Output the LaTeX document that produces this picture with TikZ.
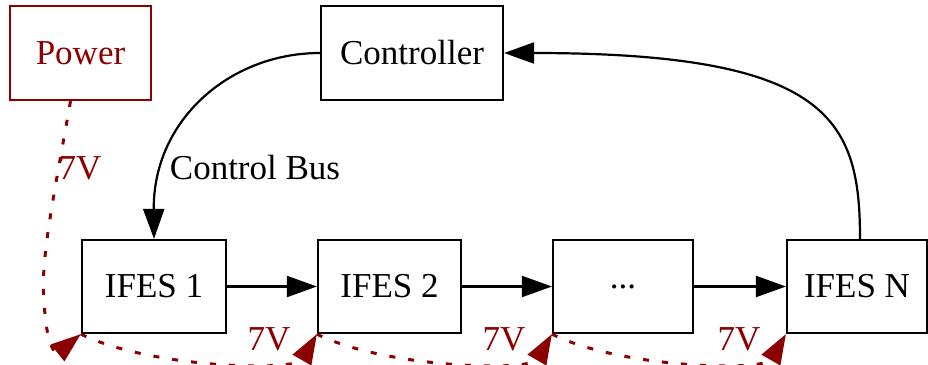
\documentclass[tikz,border=0pt]{standalone}
\usepackage{fontspec}
\setmainfont{Liberation Serif}
\usetikzlibrary{arrows.meta}
\definecolor{dred}{HTML}{8B0000}
\begin{document}
\begin{tikzpicture}[x=1pt,y=-1pt,
  box/.style={draw,line width=2.2pt,inner sep=0pt,font=\fontsize{35}{42}\selectfont},
  arr/.style={line width=2.2pt,-{Triangle[length=30pt,width=21pt]}},
  pw/.style={dred,line width=3pt,dash pattern=on 6pt off 13pt,-{Triangle[length=30pt,width=21pt]}},
  lbl/.style={font=\fontsize{35}{42}\selectfont}]
\useasboundingbox (0,0) rectangle (928,364);
\node[box,dred,minimum width=141pt,minimum height=94pt] (power) at (80.5,53) {Power};
\node[box,minimum width=182pt,minimum height=94pt] (ctrl) at (412,53) {Controller};
\node[box,minimum width=144pt,minimum height=93pt] (i1) at (154,286.5) {IFES 1};
\node[box,minimum width=143pt,minimum height=93pt] (i2) at (389.5,286.5) {IFES 2};
\node[box,minimum width=140pt,minimum height=93pt] (i3) at (623,286.5) {...};
\node[box,minimum width=140pt,minimum height=93pt] (iN) at (857,286.5) {IFES N};

\draw[arr] (ctrl.west) .. controls (230,53) and (153,120) .. (i1.north);
\draw[arr] ([xshift=3pt]iN.north) .. controls (860,120) and (830,53) .. (ctrl.east);
\node[lbl] (cb) at (255,168) {Control Bus};
\draw[arr] (i1) -- (i2);
\draw[arr] (i2) -- (i3);
\draw[arr] (i3) -- (iN);

\draw[pw] ([xshift=-10pt]power.south) .. controls (55,190) and (40,260) .. (44,300) .. controls (46,345) and (55,355) .. (i1.south west);
\node[lbl,dred] (v0) at (80,168) {7V};

\draw[pw] (i1.south west) .. controls (150,368) and (295,372) .. (i2.south west);
\draw[pw] (i2.south west) .. controls (385,368) and (530,372) .. (i3.south west);
\draw[pw] (i3.south west) .. controls (620,368) and (764,372) .. (iN.south west);
\node[lbl,dred] (v1) at (269,339) {7V};
\node[lbl,dred] (v2) at (504,339) {7V};
\node[lbl,dred] (v3) at (739,339) {7V};
\end{tikzpicture}
\end{document}
